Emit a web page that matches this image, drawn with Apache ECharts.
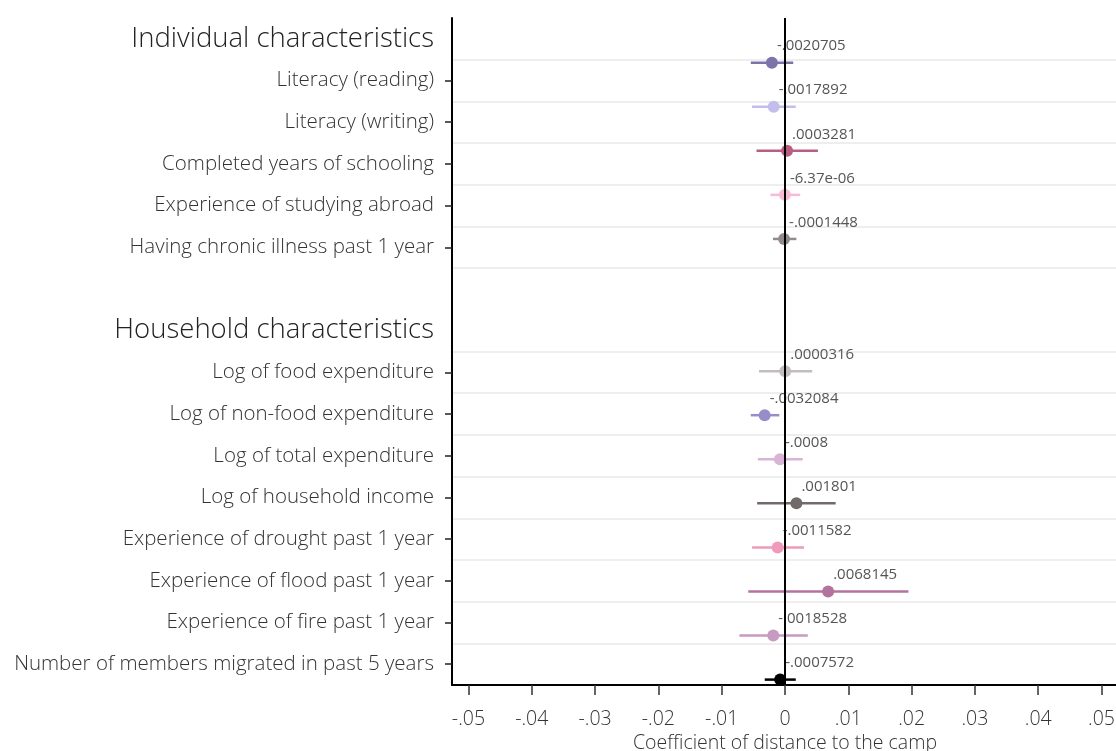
<!DOCTYPE html>
<html>
<head>
<meta charset="utf-8">
<script src="https://cdn.jsdelivr.net/npm/echarts@6/dist/echarts.min.js"></script>
<style>html,body{margin:0;padding:0;background:#fff}#chart{width:1116px;height:751px}</style>
</head>
<body>
<div id="chart"></div>
<script>
const categories = ['Individual characteristics','Literacy (reading)','Literacy (writing)','Completed years of schooling','Experience of studying abroad','Having chronic illness past 1 year','','Household characteristics','Log of food expenditure','Log of non-food expenditure','Log of total expenditure','Log of household income','Experience of drought past 1 year','Experience of flood past 1 year','Experience of fire past 1 year','Number of members migrated in past 5 years'];
const headings = ['Individual characteristics','Household characteristics'];
const variables = ['Literacy (reading)','Literacy (writing)','Completed years of schooling','Experience of studying abroad','Having chronic illness past 1 year','Log of food expenditure','Log of non-food expenditure','Log of total expenditure','Log of household income','Experience of drought past 1 year','Experience of flood past 1 year','Experience of fire past 1 year','Number of members migrated in past 5 years'];
const coef = [-0.0020705, -0.0017892, 0.0003281, -0.00000637, -0.0001448, 0.0000316, -0.0032084, -0.0008, 0.001801, -0.0011582, 0.0068145, -0.0018528, -0.0007572];
const ciLow = [-0.0054, -0.0052, -0.0045, -0.0023, -0.0019, -0.0041, -0.0054, -0.0043, -0.0044, -0.0052, -0.0058, -0.0072, -0.0032];
const ciHigh = [0.0013, 0.0017, 0.0052, 0.0024, 0.0018, 0.0043, -0.0009, 0.0028, 0.0080, 0.0030, 0.0195, 0.0036, 0.0017];
const colors = ['#7d72a9','#c3bdec','#ba5d82','#f7bcd4','#938b8b','#c2bebe','#968ec8','#d9b4d4','#726a6a','#f09ab9','#b3739f','#c79ac1','#000000'];
const xTicks = [-0.05, -0.04, -0.03, -0.02, -0.01, 0, 0.01, 0.02, 0.03, 0.04, 0.05];

const FONT = 'Open Sans';
function stataNum(v) {
  let s = String(v).replace('0.', '.');
  if (s.length > 9) {
    let e = v.toExponential(2);
    e = e.replace(/e([+-])(\d)$/, 'e$10$2');
    s = e;
  }
  return s;
}
function tickFmt(v) {
  if (Math.abs(v) < 1e-12) return '0';
  return (v < 0 ? '-' : '') + String(Math.abs(+v.toFixed(4))).replace('0.', '.');
}

const chart = echarts.init(document.getElementById('chart'));
const xRange = {min: -0.0526, max: 0.0526};
chart.setOption({
  backgroundColor: '#ffffff',
  animation: false,
  textStyle: {fontFamily: FONT},
  grid: [
    {left: 452, width: 666, top: 18, bottom: 66, outerBoundsMode: 'none', containLabel: false},
    {left: 452, width: 666, top: 18.6, height: 661, outerBoundsMode: 'none', containLabel: false}
  ],
  xAxis: [
    {
      type: 'value', gridIndex: 0, min: xRange.min, max: xRange.max,
      axisLine: {show: true, onZero: false, lineStyle: {color: '#000', width: 2}},
      axisTick: {show: true, length: 10, customValues: xTicks, lineStyle: {color: '#333', width: 1.5}},
      axisLabel: {customValues: xTicks, formatter: tickFmt, color: '#333', fontSize: 19.5, fontFamily: FONT, fontWeight: 300, margin: 24},
      splitLine: {show: false},
      name: 'Coefficient of distance to the camp', nameLocation: 'middle', nameGap: 48,
      nameTextStyle: {color: '#333', fontSize: 19.5, fontFamily: FONT, fontWeight: 300}
    },
    {
      type: 'value', gridIndex: 1, min: xRange.min, max: xRange.max, show: false,
      splitLine: {show: false}
    }
  ],
  yAxis: [
    {
      type: 'category', gridIndex: 0, data: categories, inverse: true, boundaryGap: true,
      axisLine: {show: true, onZero: false, lineStyle: {color: '#000', width: 2}},
      axisTick: {show: true, alignWithLabel: true, length: 7, lineStyle: {color: '#222', width: 1.5},
        interval: function (i, v) { return v !== '' && headings.indexOf(v) < 0; }},
      axisLabel: {
        interval: 0, margin: 18,
        formatter: function (v) { return headings.indexOf(v) >= 0 ? '{h|' + v + '}' : '{n|' + v + '}'; },
        rich: {
          h: {fontSize: 27.5, color: '#222', fontFamily: FONT, fontWeight: 300},
          n: {fontSize: 20.5, color: '#333', fontFamily: FONT, fontWeight: 300}
        }
      },
      splitLine: {show: true, lineStyle: {color: '#e8e8e8', width: 1.5},
        interval: function (i) { return i !== 0 && i !== 7; }}
    },
    {
      type: 'category', gridIndex: 1, data: categories, inverse: true, boundaryGap: false, show: false,
      axisLine: {onZero: false}
    }
  ],
  series: [
    {
      type: 'scatter', xAxisIndex: 0, yAxisIndex: 0, data: [], silent: true,
      markLine: {
        symbol: 'none', silent: true, label: {show: false},
        lineStyle: {color: '#000', width: 2, type: 'solid'},
        data: [{xAxis: 0}]
      },
      z: 1
    },
    {
      type: 'custom', xAxisIndex: 1, yAxisIndex: 1, z: 2,
      encode: {x: [0, 1], y: 2},
      data: variables.map(function (v, i) { return [ciLow[i], ciHigh[i], v]; }),
      renderItem: function (params, api) {
        const a = api.coord([api.value(0), api.value(2)]);
        const b = api.coord([api.value(1), api.value(2)]);
        return {type: 'line', shape: {x1: a[0], y1: a[1], x2: b[0], y2: b[1]},
          style: {stroke: colors[params.dataIndex], lineWidth: 2.5}};
      }
    },
    {
      type: 'scatter', xAxisIndex: 1, yAxisIndex: 1, z: 3, symbolSize: 12,
      data: variables.map(function (v, i) {
        return {value: [coef[i], v], itemStyle: {color: colors[i], opacity: 1}};
      }),
      label: {
        show: true, position: [11, -18],
        formatter: function (p) { return stataNum(p.value[0]); },
        color: '#555', fontSize: 15, fontFamily: FONT
      }
    }
  ]
});
</script>
</body>
</html>
